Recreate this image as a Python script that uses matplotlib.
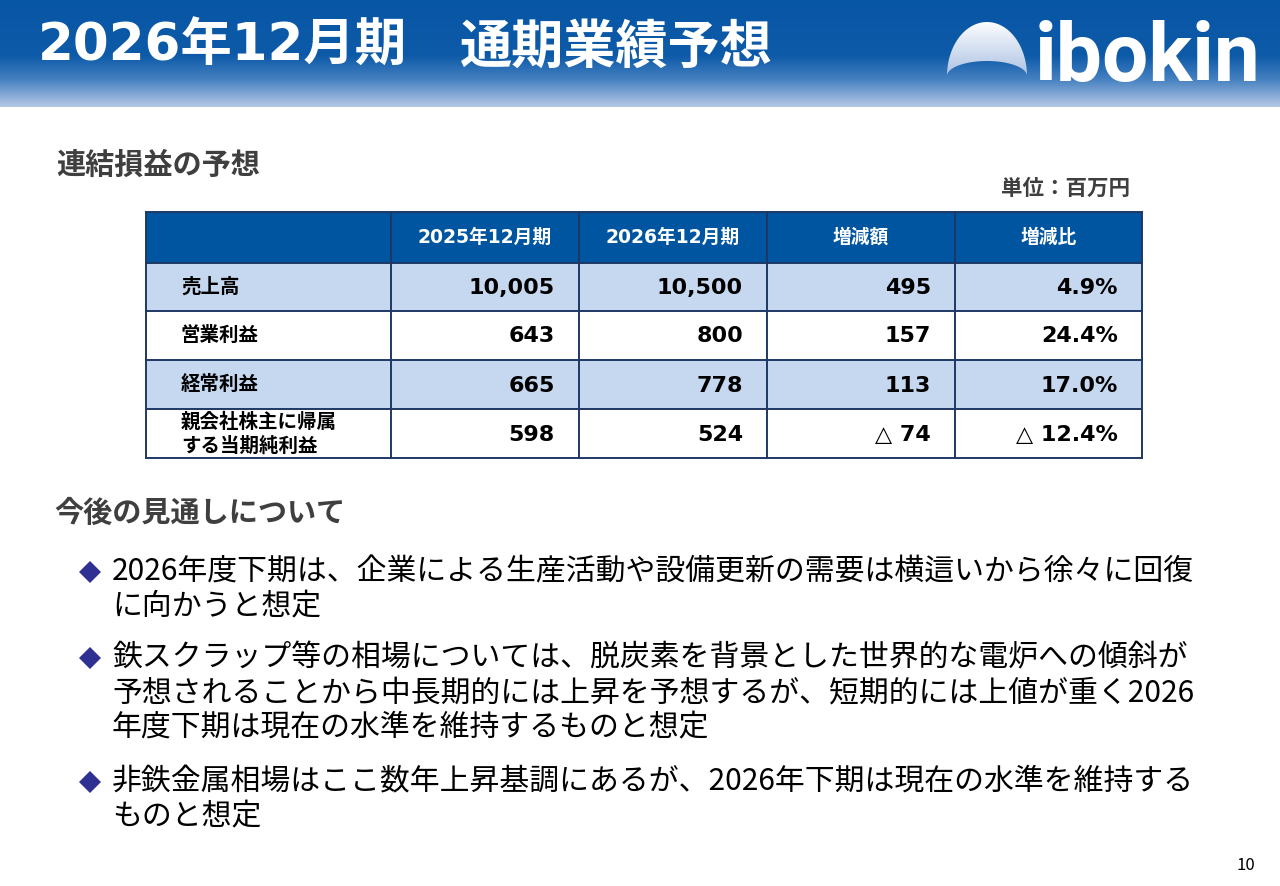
import numpy as np
import matplotlib.pyplot as plt
from matplotlib.patches import Rectangle, Polygon
from matplotlib.colors import LinearSegmentedColormap

plt.rcParams['font.family'] = ['Noto Sans CJK JP', 'DejaVu Sans']

# ---- data ----
title_left = '2026年12月期'
title_right = '通期業績予想'
section1 = '連結損益の予想'
section2 = '今後の見通しについて'
unit_label = '単位：百万円'

col_headers = ['2025年12月期', '2026年12月期', '増減額', '増減比']
row_labels = ['売上高', '営業利益', '経常利益', '親会社株主に帰属\nする当期純利益']
fy2025 = [10005, 643, 665, 598]
fy2026 = [10500, 800, 778, 524]
change = [495, 157, 113, -74]
change_pct = [4.9, 24.4, 17.0, -12.4]

bullets = [
    ['2026年度下期は、企業による生産活動や設備更新の需要は横這いから徐々に回復',
     'に向かうと想定'],
    ['鉄スクラップ等の相場については、脱炭素を背景とした世界的な電炉への傾斜が',
     '予想されることから中長期的には上昇を予想するが、短期的には上値が重く2026',
     '年度下期は現在の水準を維持するものと想定'],
    ['非鉄金属相場はここ数年上昇基調にあるが、2026年下期は現在の水準を維持する',
     'ものと想定'],
]
page_no = '10'

# ---- colours ----
BLUE = '#0055a0'
LIGHT = '#c6d8f0'
BORDER = '#1f3864'
GRAY = '#3f3f3f'
BULLET = '#2e3192'


def fmt_int(v):
    return f'△ {abs(v):,}' if v < 0 else f'{v:,}'


def fmt_pct(v):
    return f'△ {abs(v):.1f}%' if v < 0 else f'{v:.1f}%'


fig = plt.figure(figsize=(12.8, 8.86), dpi=100)
ax = fig.add_axes([0, 0, 1, 1])
ax.set_xlim(0, 1280)
ax.set_ylim(886, 0)
ax.axis('off')

# header band with vertical gradient
hdr_cmap = LinearSegmentedColormap.from_list(
    'hdr', [(0, '#0756a5'), (0.52, '#0d5aa8'), (0.74, '#4580c0'),
            (1.0, '#b5c8e6')])
grad = np.linspace(0, 1, 256).reshape(-1, 1)
ax.imshow(grad, cmap=hdr_cmap, extent=[0, 1280, 107, 0], aspect='auto',
          zorder=0)

bold_mix = ['DejaVu Sans', 'Noto Sans CJK JP']
ax.text(38, 47, title_left, color='white', fontsize=37, fontweight='bold',
        family=bold_mix, va='center', ha='left')
ax.text(460, 47, title_right, color='white', fontsize=37.5, fontweight='bold',
        family=['Noto Sans CJK JP'], va='center', ha='left')

# logo: dome shape + wordmark
t = np.linspace(0, np.pi, 80)
outer_x = 987 + 40 * np.cos(t)
outer_y = 76 - 54 * np.sin(t)
inner_x = 987 - 40 * np.cos(t)
inner_y = 76 - 15 * np.sin(t)
dome = Polygon(np.column_stack([np.r_[outer_x, inner_x],
                                np.r_[outer_y, inner_y]]),
               closed=True, facecolor='none', edgecolor='none')
ax.add_patch(dome)
dome_cmap = LinearSegmentedColormap.from_list('dome', ['#ffffff', '#a9bfe2'])
img = ax.imshow(grad, cmap=dome_cmap, extent=[945, 1030, 78, 20],
                aspect='auto', zorder=1)
img.set_clip_path(dome)
ax.text(1035, 81, 'ibokin', color='white', fontsize=59, fontweight='bold',
        family=['Roboto'], va='baseline', ha='left')

# section titles
ax.text(56, 165, section1, color=GRAY, fontsize=21, fontweight='bold',
        va='center', ha='left')
ax.text(1130, 188, unit_label, color=GRAY, fontsize=15.5, fontweight='bold',
        va='center', ha='right')

# ---- table ----
col_edges = [146, 391, 579, 767, 955, 1142]
row_edges = [212, 263, 311, 360, 409, 458]

ax.add_patch(Rectangle((col_edges[0], row_edges[0]),
                       col_edges[-1] - col_edges[0],
                       row_edges[1] - row_edges[0],
                       facecolor=BLUE, edgecolor='none', zorder=1))
for i in range(len(row_labels)):
    fc = LIGHT if i % 2 == 0 else 'white'
    ax.add_patch(Rectangle((col_edges[0], row_edges[i + 1]),
                           col_edges[-1] - col_edges[0],
                           row_edges[i + 2] - row_edges[i + 1],
                           facecolor=fc, edgecolor='none', zorder=1))
for y in row_edges:
    ax.plot([col_edges[0], col_edges[-1]], [y, y], color=BORDER, lw=1.4,
            zorder=2, solid_capstyle='projecting')
for x in col_edges:
    ax.plot([x, x], [row_edges[0], row_edges[-1]], color=BORDER, lw=1.4,
            zorder=2, solid_capstyle='projecting')

hy = (row_edges[0] + row_edges[1]) / 2
for j, h in enumerate(col_headers):
    cx = (col_edges[j + 1] + col_edges[j + 2]) / 2
    ax.text(cx, hy, h, color='white', fontsize=13.5, fontweight='bold',
            family=bold_mix, ha='center', va='center', zorder=3)

columns = [[fmt_int(v) for v in fy2025], [fmt_int(v) for v in fy2026],
           [fmt_int(v) for v in change], [fmt_pct(v) for v in change_pct]]
for i, lab in enumerate(row_labels):
    cy = (row_edges[i + 1] + row_edges[i + 2]) / 2
    lines = lab.split('\n')
    if len(lines) == 1:
        ax.text(181, cy, lab, color='black', fontsize=14, fontweight='bold',
                ha='left', va='center', zorder=3)
    else:
        for k, ln in enumerate(lines):
            ax.text(181, cy - 11 + 24 * k, ln, color='black', fontsize=14,
                    fontweight='bold', ha='left', va='center', zorder=3)
    for j, col in enumerate(columns):
        rx = col_edges[j + 2] - 24
        ax.text(rx, cy + 1, col[i], color='black', fontsize=16,
                fontweight='bold', family=['DejaVu Sans'],
                ha='right', va='center', zorder=3)

# ---- outlook ----
ax.text(54, 513, section2, color=GRAY, fontsize=21, fontweight='bold',
        va='center', ha='left')

line_h = 35
starts = [572, 658, 782]
for b, y0 in zip(bullets, starts):
    ax.plot([90], [y0], marker='D', markersize=11, color=BULLET,
            markeredgewidth=0)
    for k, ln in enumerate(b):
        ax.text(112, y0 + line_h * k, ln, color='black', fontsize=21.5,
                ha='left', va='center')

ax.text(1246, 866, page_no, color='black', fontsize=12, ha='center',
        va='center')

fig.savefig('out.png', dpi=100)
plt.close(fig)
